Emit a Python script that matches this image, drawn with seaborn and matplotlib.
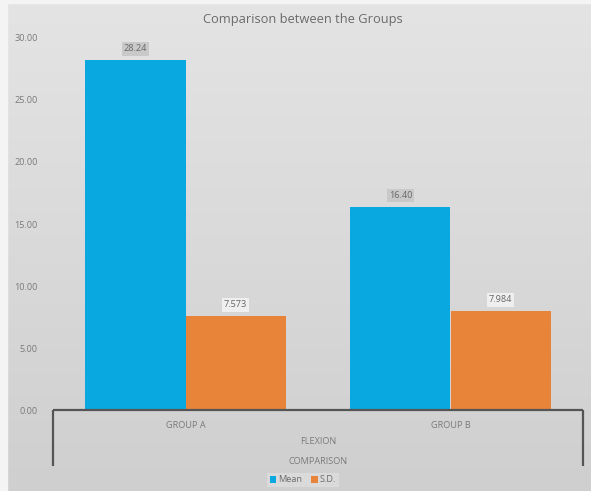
import numpy as np
import pandas as pd
import matplotlib
matplotlib.use("Agg")
import matplotlib.pyplot as plt
from matplotlib.lines import Line2D
from matplotlib.patches import Patch
import seaborn as sns

# Data
groups = ["GROUP A", "GROUP B"]
mean_values = [28.24, 16.40]
sd_values = [7.573, 7.984]
mean_labels = ["28.24", "16.40"]
sd_labels = ["7.573", "7.984"]
series_names = ["Mean", "S.D."]
y_ticks = [0, 5, 10, 15, 20, 25, 30]

df = pd.DataFrame({
    "group": groups * 2,
    "stat": [series_names[0]] * 2 + [series_names[1]] * 2,
    "value": mean_values + sd_values,
})

sns.set_theme(style="white")
plt.rcParams["font.family"] = ["Open Sans", "DejaVu Sans"]

W, H = 591, 491
fig = plt.figure(figsize=(W / 100, H / 100), dpi=100)

# soft vertical gradient background
bg = fig.add_axes([0, 0, 1, 1], zorder=-10)
grad = np.linspace(0, 1, 256).reshape(-1, 1)
bg.imshow(grad, aspect="auto", cmap=matplotlib.colors.LinearSegmentedColormap.from_list(
    "bg", ["#e4e4e4", "#cfcfcf"]), extent=[0, 1, 0, 1], origin="upper")
bg.axis("off")
# thin white frame around the chart
fig.patches.append(plt.Rectangle((0, 0), 7 / W, 1, transform=fig.transFigure,
                                 color="#f4f4f4", zorder=-5))
fig.patches.append(plt.Rectangle((0, 1 - 3 / H), 1, 3 / H, transform=fig.transFigure,
                                 color="#f4f4f4", zorder=-5))

left, right, zero_y, top_y = 53, 583, 410, 38
ax = fig.add_axes([left / W, (H - zero_y) / H, (right - left) / W, (zero_y - top_y) / H])
ax.set_facecolor("none")

palette = {"Mean": "#09a8e1", "S.D.": "#e8843a"}
sns.barplot(data=df, x="group", y="value", hue="stat", palette=palette,
            width=0.755, ax=ax, legend=False, saturation=1, linewidth=0, edgecolor="none")

small = 6.6
ax.set_ylim(0, 30)
ax.set_xlim(-0.5, 1.5)
ax.set_yticks(y_ticks)
ax.set_yticklabels([f"{v:.2f}" for v in y_ticks], fontsize=small, color="#7a7a7a")
ax.tick_params(axis="y", length=0, pad=11)
ax.tick_params(axis="x", length=0, pad=8, labelsize=small, labelcolor="#7a7a7a")
ax.set_xlabel("")
ax.set_ylabel("")
for s in ax.spines.values():
    s.set_visible(False)

# value labels above bars
n = len(groups)
for i, p in enumerate(ax.patches[:2 * n]):
    is_mean = i < n
    txt = mean_labels[i] if is_mean else sd_labels[i - n]
    x = p.get_x() + p.get_width() / 2
    ax.annotate(txt, (x, p.get_height()), xytext=(0, 8), textcoords="offset points",
                ha="center", va="center", fontsize=small, color="#666666",
                bbox=dict(boxstyle="square,pad=0.25",
                          fc="#c9c9c9" if is_mean else "#efefef", ec="none"))

# category axis bracket
ax_color = "#555555"
def fig_line(xs, ys):
    fig.add_artist(Line2D([x / W for x in xs], [1 - y / H for y in ys],
                          color=ax_color, lw=1.6, transform=fig.transFigure,
                          solid_capstyle="butt"))
fig_line([left, right], [zero_y, zero_y])
fig_line([left, left], [zero_y, 466])
fig_line([right, right], [zero_y, 466])

# multi-level category labels
mid = (left + right) / 2 / W
fig.text(mid, 1 - 442 / H, "FLEXION", ha="center", va="center", fontsize=small, color="#7a7a7a")
fig.text(mid, 1 - 461 / H, "COMPARISON", ha="center", va="center", fontsize=small, color="#7a7a7a")

# title
fig.text(303 / W, 1 - 19 / H, "Comparison between the Groups", ha="center", va="center",
         fontsize=9.3, color="#6a6a6a")

# legend
handles = [Patch(facecolor=palette[s], edgecolor="none") for s in series_names]
leg = fig.legend(handles, series_names, loc="center", bbox_to_anchor=(303 / W, 1 - 480 / H),
                 ncol=2, fontsize=small, frameon=True, handlelength=0.7, handleheight=0.7,
                 handletextpad=0.2, columnspacing=1.0, borderpad=0.3, fancybox=False)
leg.get_frame().set_facecolor("#dedede")
leg.get_frame().set_edgecolor("none")
for t in leg.get_texts():
    t.set_color("#6a6a6a")

fig.savefig("out.png", dpi=100)
